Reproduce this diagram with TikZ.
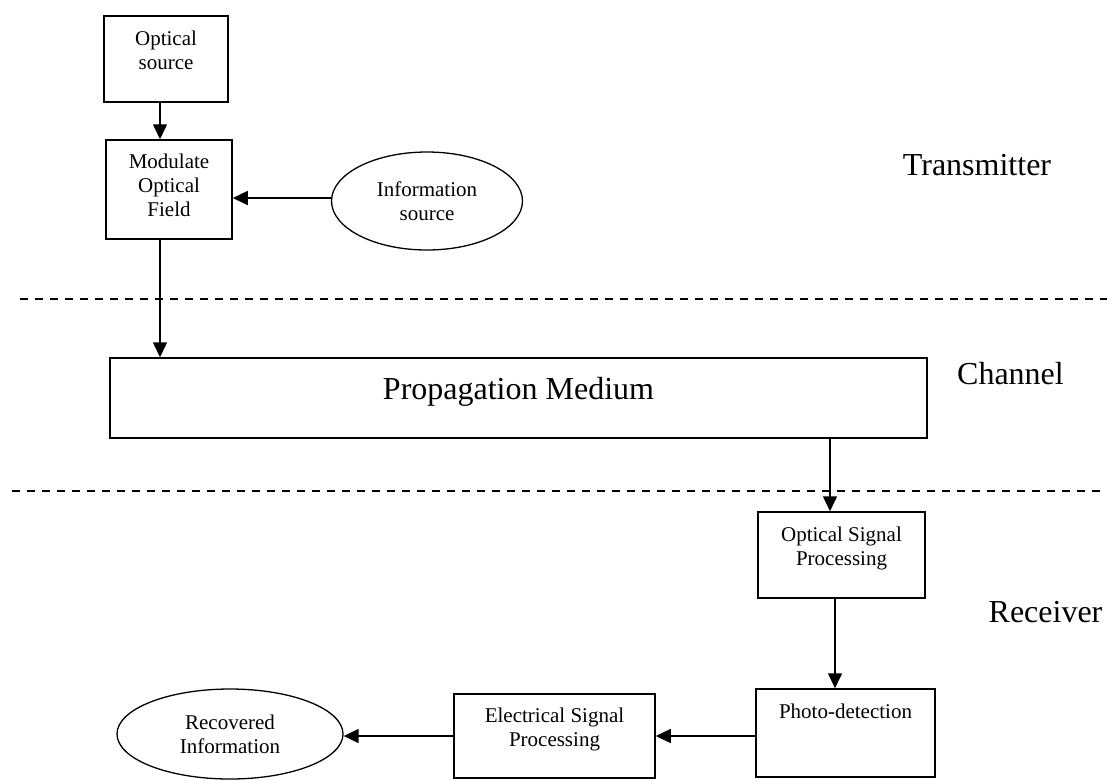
\documentclass[tikz,border=0pt]{standalone}
\usepackage{fontspec}
\setmainfont{Liberation Serif}
\usetikzlibrary{shapes.geometric,arrows.meta}

% stacked lines inside a block, baseline on the first line
\newcommand{\blocktext}[1]{\begin{tabular}[t]{@{}c@{}}#1\end{tabular}}

\begin{document}
\begin{tikzpicture}[
  x=1pt, y=-1pt,
  block/.style={rectangle, draw, line width=1.5pt, inner sep=0pt, font=\fontsize{21}{24}\selectfont},
  blob/.style={ellipse, draw, line width=1.3pt, inner sep=0pt, align=center, font=\fontsize{21}{24}\selectfont},
  zone/.style={inner sep=0pt, anchor=base, font=\fontsize{32}{38}\selectfont},
  arrow/.style={-{Triangle[length=15pt, width=14pt]}, line width=1.5pt},
  divider/.style={dashed, dash pattern=on 8pt off 7pt, line width=1.5pt},
]
\useasboundingbox (0,0) rectangle (1107,780);

% === Transmitter ===
\node[block, minimum width=124pt, text height=29pt, text depth=57pt] (osrc) at (166,59) {\blocktext{Optical\\source}};
\node[block, minimum width=126pt, text height=28pt, text depth=71pt] (mod) at (169,189.5) {\blocktext{Modulate\\Optical\\Field}};
\node[blob, minimum width=191pt, minimum height=98pt] (info) at (427,201) {Information\\source};

% === Channel ===
\node[block, minimum width=817pt, text height=41pt, text depth=39pt, font=\fontsize{32}{38}\selectfont] (prop) at (518.5,398) {Propagation Medium};

% === Receiver ===
\node[block, minimum width=167pt, text height=29pt, text depth=57pt] (osp) at (841.5,555) {\blocktext{Optical Signal\\Processing}};
\node[block, minimum width=179pt, text height=29pt, text depth=59pt] (pd) at (845.5,733) {Photo-detection};
\node[block, minimum width=201pt, text height=28pt, text depth=56pt] (esp) at (554.5,736) {\blocktext{Electrical Signal\\Processing}};
\node[blob, minimum width=226pt, minimum height=90pt] (rec) at (230,734) {Recovered\\Information};

% === Zone names and dividers ===
\node[zone] (tx) at (977,175) {Transmitter};
\node[zone] (ch) at (1010.5,384) {Channel};
\node[zone] (rx) at (1045.5,622) {Receiver};

\draw[divider] (20,299) -- (1107,299);
\draw[divider] (12,491) -- (1107,491);

\coordinate (infoin) at ([yshift=3pt]info.west);
\draw[arrow] ([xshift=-6pt]osrc.south) -- ([xshift=-9pt]mod.north);
\draw[arrow] (infoin) -- (mod.east |- infoin);
\draw[arrow] ([xshift=-9pt]mod.south) -- ([xshift=-9pt]mod.south |- prop.north);
\draw[arrow] ([xshift=-11.5pt]osp.north |- prop.south) -- ([xshift=-11.5pt]osp.north);
\draw[arrow] ([xshift=-6.5pt]osp.south) -- ([xshift=-6.5pt]osp.south |- pd.north);
\draw[arrow] (pd.west |- esp.east) -- (esp.east);
\draw[arrow] (esp.west) -- (rec.east |- esp.west);

\end{tikzpicture}
\end{document}
